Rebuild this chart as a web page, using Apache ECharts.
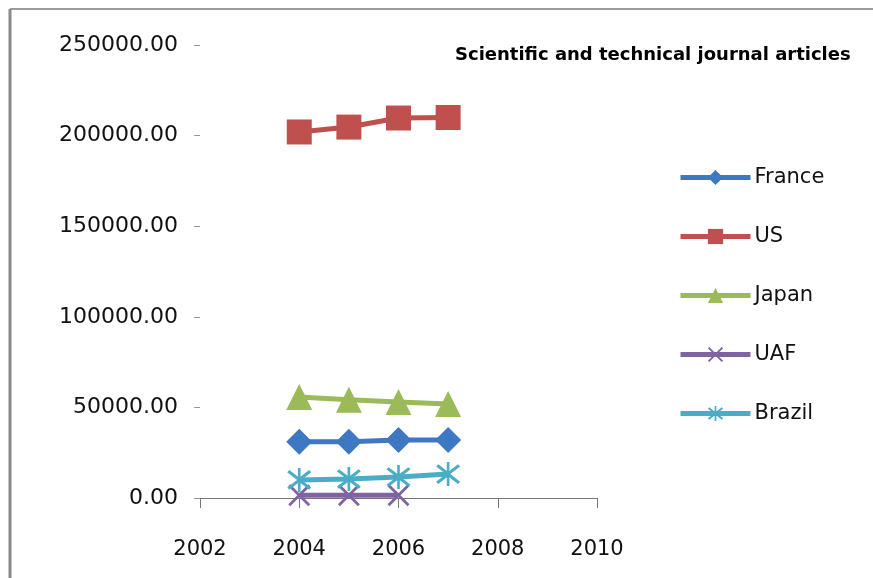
<!DOCTYPE html>
<html>
<head>
<meta charset="utf-8">
<script src="https://cdn.jsdelivr.net/npm/echarts@6/dist/echarts.min.js"></script>
<style>html,body{margin:0;padding:0;background:#fff;}#c{width:873px;height:578px;}</style>
</head>
<body>
<div id="c"></div>
<script>
const years = [2004, 2005, 2006, 2007];
const france = [31000, 31000, 32000, 32000];
const us = [202000, 204700, 209700, 210000];
const japan = [55700, 54200, 53000, 51900];
const uaf = [1500, 1500, 1500];
const brazil = [10000, 10500, 11600, 13200];
const seriesNames = ['France', 'US', 'Japan', 'UAF', 'Brazil'];
const titleText = 'Scientific and technical journal articles';

const xPath = 'path://M0,0.9 L0.9,0 L5,4.1 L9.1,0 L10,0.9 L5.9,5 L10,9.1 L9.1,10 L5,5.9 L0.9,10 L0,9.1 L4.1,5 Z';
const starPath = 'path://M0,1.8 L0.9,0.9 L5,4.1 L9.1,0.9 L10,1.8 L5.9,5 L10,8.2 L9.1,9.1 L5,5.9 L0.9,9.1 L0,8.2 L4.1,5 Z M4.45,0 L5.55,0 L5.55,10 L4.45,10 Z';

function pairs(xs, ys) { return ys.map((v, i) => [xs[i], v]); }

const chart = echarts.init(document.getElementById('c'), null, {renderer: 'canvas'});
const font = 'DejaVu Sans';
function mk(name, data, color, symbol, size) {
  return {
    name, type: 'line', data: pairs(years, data),
    symbol, symbolSize: size, showSymbol: true,
    lineStyle: {color, width: 5},
    itemStyle: {color},
    emphasis: {disabled: true},
    animation: false
  };
}
chart.setOption({
  backgroundColor: '#fff',
  animation: false,
  title: {
    text: titleText, left: 450, top: 41,
    textStyle: {fontFamily: font, fontSize: 18, fontWeight: 'bold', color: '#000'}
  },
  graphic: [
    {type: 'line', shape: {x1: 10, y1: 9, x2: 873, y2: 9}, style: {stroke: '#9a9a9a', lineWidth: 2}},
    {type: 'line', shape: {x1: 10, y1: 9, x2: 10, y2: 578}, style: {stroke: '#8a8a8a', lineWidth: 3}}
  ],
  grid: {left: 200, right: 276, top: 45, bottom: 80, containLabel: false},
  xAxis: {
    type: 'value', min: 2002, max: 2010, interval: 2,
    axisLine: {show: true, lineStyle: {color: '#777', width: 1}},
    axisTick: {show: true, length: 10, lineStyle: {color: '#777'}},
    splitLine: {show: false},
    axisLabel: {fontFamily: font, fontSize: 21, color: '#111', margin: 41, formatter: v => String(v)}
  },
  yAxis: {
    type: 'value', min: 0, max: 250000, interval: 50000,
    axisLine: {show: false},
    axisTick: {show: true, length: 6, lineStyle: {color: '#999'}},
    splitLine: {show: false},
    axisLabel: {fontFamily: font, fontSize: 22, color: '#111', margin: 22, formatter: v => v.toFixed(2)}
  },
  legend: {
    orient: 'vertical', left: 673, top: 162,
    itemWidth: 70, itemHeight: 19, itemGap: 38,
    lineStyle: {width: 5},
    textStyle: {fontFamily: font, fontSize: 21, color: '#111', padding: [0, 0, 0, -1]},
    data: seriesNames
  },
  series: [
    mk('France', france, '#3f78c2', 'diamond', 26),
    mk('US', us, '#c0504d', 'rect', 25),
    mk('Japan', japan, '#9bbb59', 'triangle', 26),
    mk('UAF', uaf, '#8064a2', xPath, 22),
    mk('Brazil', brazil, '#4bacc6', starPath, 24)
  ]
});
</script>
</body>
</html>
